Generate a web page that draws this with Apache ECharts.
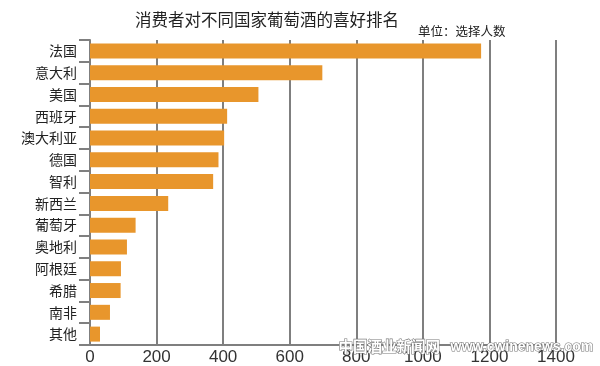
<!DOCTYPE html>
<html>
<head>
<meta charset="utf-8">
<style>html,body{margin:0;padding:0;background:#fff}#c{width:600px;height:366px}</style>
<script src="https://cdn.jsdelivr.net/npm/echarts@6/dist/echarts.min.js"></script>
</head>
<body>
<div id="c"></div>
<script>
const categories = ['法国','意大利','美国','西班牙','澳大利亚','德国','智利','新西兰','葡萄牙','奥地利','阿根廷','希腊','南非','其他'];
const values = [1175, 698, 506, 412, 403, 386, 370, 235, 137, 111, 93, 92, 60, 30];
const xTicks = [0, 200, 400, 600, 800, 1000, 1200, 1400];

const chart = echarts.init(document.getElementById('c'), null, {renderer: 'canvas'});
const cjk = '"Noto Sans CJK SC", "Noto Sans", sans-serif';
chart.setOption({
  animation: false,
  backgroundColor: '#ffffff',
  title: {
    text: '消费者对不同国家葡萄酒的喜好排名',
    left: 130, top: 6,
    textStyle: {fontFamily: cjk, fontSize: 16.5, fontWeight: 'normal', color: '#222'}
  },
  graphic: [
    {type: 'text', left: 418, top: 25, style: {text: '单位：选择人数', font: '12.5px ' + cjk, fill: '#222'}},
    {type: 'text', left: 338, top: 339, z: 100, style: {text: '中国酒业新闻网', font: 'bold 14.5px ' + cjk, fill: '#ffffff', stroke: '#7a7a7a', lineWidth: 1.2}},
    {type: 'text', left: 450, top: 340, z: 100, style: {text: 'www.cwinenews.com', font: 'bold 14px "Liberation Sans", Arial, sans-serif', fill: '#ffffff', stroke: '#7a7a7a', lineWidth: 1.2}}
  ],
  grid: {left: 90, right: 44, top: 40, bottom: 20, containLabel: false},
  xAxis: {
    type: 'value', min: 0, max: 1400, interval: 200,
    axisLine: {show: true, lineStyle: {color: '#7f7f7f', width: 2}},
    axisTick: {show: false},
    splitLine: {show: true, lineStyle: {color: '#7f7f7f', width: 2}},
    axisLabel: {margin: 4, color: '#333', fontSize: 17, fontFamily: '"Liberation Sans", Arial, sans-serif',
      formatter: v => xTicks.includes(v) ? String(v) : ''}
  },
  yAxis: {
    type: 'category', data: categories, inverse: true,
    axisLine: {show: true, lineStyle: {color: '#7f7f7f', width: 2}},
    axisTick: {show: true, length: 11, lineStyle: {color: '#7f7f7f', width: 2}},
    axisLabel: {margin: 13, color: '#222', fontSize: 14, fontFamily: cjk}
  },
  series: [{
    type: 'bar', data: values, barWidth: 15,
    itemStyle: {color: '#E8962C'}
  }]
});
</script>
</body>
</html>
